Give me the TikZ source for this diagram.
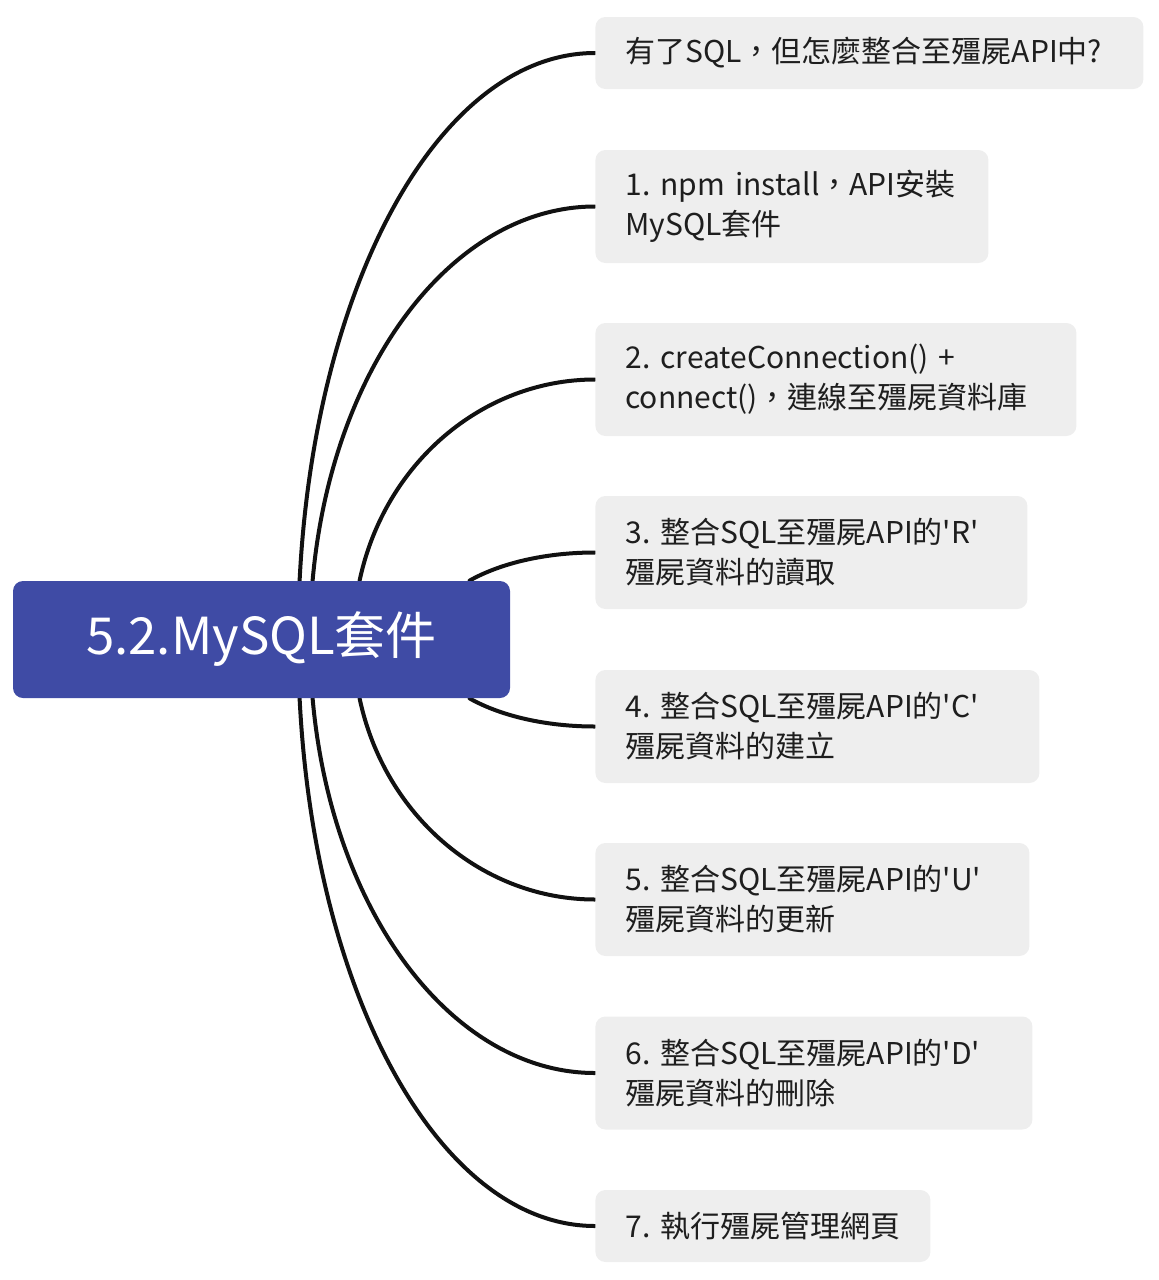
\documentclass[tikz,border=0pt]{standalone}
\usepackage{fontspec}
\setmainfont{Noto Sans CJK TC}[Ligatures=TeXOff]
\usetikzlibrary{calc,backgrounds}
\definecolor{rootblue}{HTML}{3F4BA5}
\definecolor{leafgray}{HTML}{EEEEEE}
\definecolor{leaftext}{HTML}{1E1E1E}
\definecolor{branchline}{HTML}{111111}
\frenchspacing

\begin{document}
\begin{tikzpicture}[x=0.5pt,y=-0.5pt,
		rootbox/.style={fill=rootblue, rounded corners=5pt, text=white, inner sep=0pt,
			minimum width=248.5pt, minimum height=58.5pt, font=\fontsize{25.5}{30}\selectfont},
		leafbox/.style={fill=leafgray, rounded corners=5pt, anchor=west, align=left,
			inner xsep=15pt, inner ysep=0pt, text=leaftext, font=\fontsize{15}{20}\selectfont},
		onerow/.style={minimum height=36pt},
		tworow/.style={minimum height=56.5pt},
		branch/.style={line width=2pt, draw=branchline, line cap=round}]
	\useasboundingbox (0,0) rectangle (1158,1280);

	\node[rootbox] (root) at (261.5,639.5) {5.2.MySQL套件};

	\node[leafbox, onerow, text width=244pt] (q0) at (595,53) {有了SQL，但怎麼整合至殭屍API中?};
	\node[leafbox, tworow, text width=166.5pt] (s1) at (595,206.5) {1.~npm~install，API安裝\\MySQL套件};
	\node[leafbox, tworow, text width=210.5pt] (s2) at (595,379.5) {2.~createConnection()~+\\connect()，連線至殭屍資料庫};
	\node[leafbox, tworow, text width=186pt] (s3) at (595,552.5) {3.~整合SQL至殭屍API的'R'\\殭屍資料的讀取};
	\node[leafbox, tworow, text width=192pt] (s4) at (595,726.5) {4.~整合SQL至殭屍API的'C'\\殭屍資料的建立};
	\node[leafbox, tworow, text width=187pt] (s5) at (595,899.5) {5.~整合SQL至殭屍API的'U'\\殭屍資料的更新};
	\node[leafbox, tworow, text width=188.5pt] (s6) at (595,1073) {6.~整合SQL至殭屍API的'D'\\殭屍資料的刪除};
	\node[leafbox, onerow, text width=137.5pt] (s7) at (595,1226) {7.~執行殭屍管理網頁};

	\begin{scope}[on background layer]
		\draw[branch] ($(root.north west)+(287,0)$) .. controls +(15,-300) and +(-154,0) .. (q0.west);
		\draw[branch] ($(root.north west)+(300,0)$) .. controls +(19,-215) and +(-142,0) .. (s1.west);
		\draw[branch] ($(root.north west)+(347,0)$) .. controls +(25,-118) and +(-112,0) .. (s2.west);
		\draw[branch] ($(root.north west)+(457,0)$) .. controls +(32,-18) and +(-48,0) .. (s3.west);

		\draw[branch] ($(root.south west)+(457,0)$) .. controls +(32,18) and +(-48,0) .. (s4.west);
		\draw[branch] ($(root.south west)+(347,0)$) .. controls +(25,118) and +(-112,0) .. (s5.west);
		\draw[branch] ($(root.south west)+(300,0)$) .. controls +(19,215) and +(-142,0) .. (s6.west);
		\draw[branch] ($(root.south west)+(287,0)$) .. controls +(15,300) and +(-154,0) .. (s7.west);
	\end{scope}
\end{tikzpicture}
\end{document}
